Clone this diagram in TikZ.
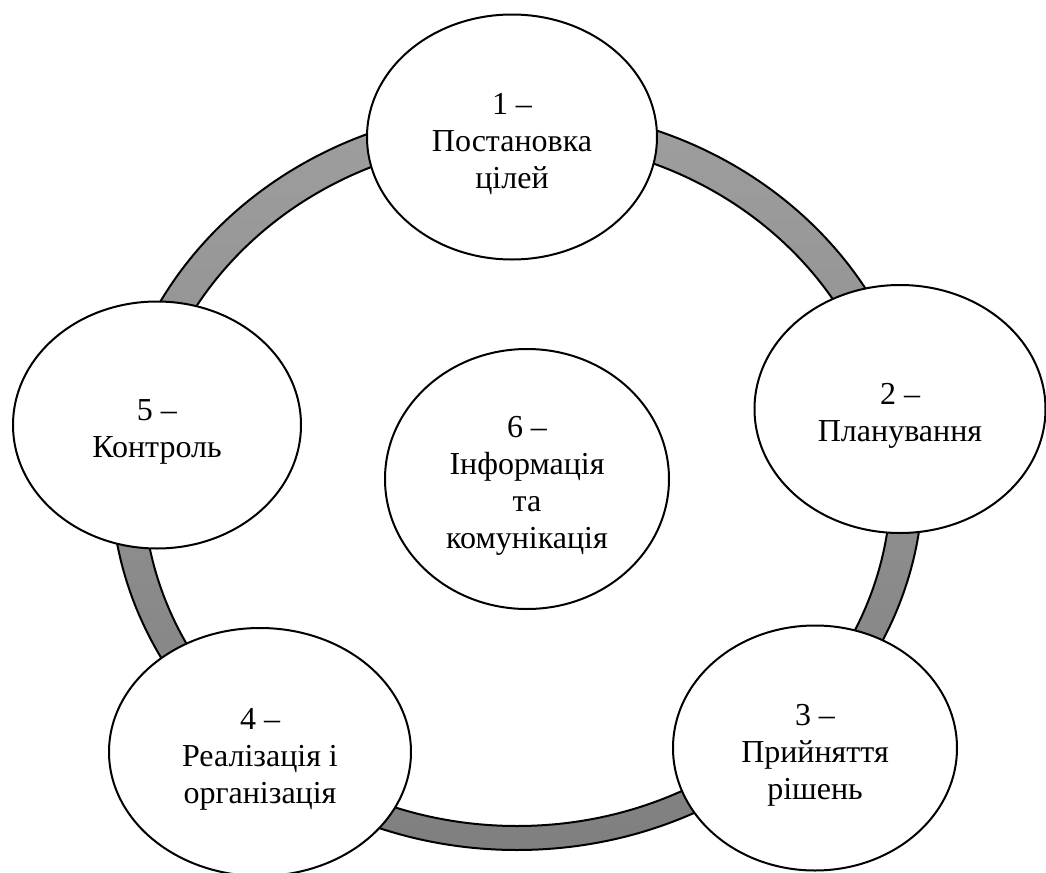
\documentclass[tikz,border=0pt]{standalone}
\usepackage{fontspec}
\setmainfont{Liberation Serif}
\usetikzlibrary{shapes.geometric}
\newcommand\stagetxt[1]{\raisebox{0pt}[\dimexpr\height+7pt\relax][\depth]{\begin{tabular}{@{}c@{}}#1\end{tabular}}}
\tikzset{
  stage/.style={ellipse, draw=black, line width=1pt, fill=white, inner sep=0pt,
    font=\fontsize{16}{18.5}\selectfont},
  ringline/.style={draw=black, line width=1pt}
}
\begin{document}
\begin{tikzpicture}[x=0.5pt,y=-0.5pt]
\useasboundingbox (0,0) rectangle (1046,873);
% ring
\shade[even odd rule, top color=black!38, bottom color=black!50]
  (517,479) ellipse [x radius=203pt, y radius=185.5pt]
  (517,483) ellipse [x radius=187pt, y radius=171.5pt];
\draw[ringline] (517,479) ellipse [x radius=203pt, y radius=185.5pt];
\draw[ringline] (517,483) ellipse [x radius=187pt, y radius=171.5pt];
% stages
\node[stage, minimum width=145pt, minimum height=122.5pt] (n1) at (512,137) {\stagetxt{1 –\\Постановка\\цілей}};
\node[stage, minimum width=145.5pt, minimum height=124pt] (n2) at (900,409) {\stagetxt{2 –\\Планування}};
\node[stage, minimum width=142pt, minimum height=122.5pt] (n3) at (815,748) {\stagetxt{3 –\\Прийняття\\рішень}};
\node[stage, minimum width=151pt, minimum height=124pt] (n4) at (260,752) {\stagetxt{4 –\\Реалізація і\\організація}};
\node[stage, minimum width=144pt, minimum height=123.5pt] (n5) at (157,425) {\stagetxt{5 –\\Контроль}};
\node[stage, minimum width=142pt, minimum height=130pt] (n6) at (527,479) {\stagetxt{6 –\\Інформація\\та\\комунікація}};
\end{tikzpicture}
\end{document}
